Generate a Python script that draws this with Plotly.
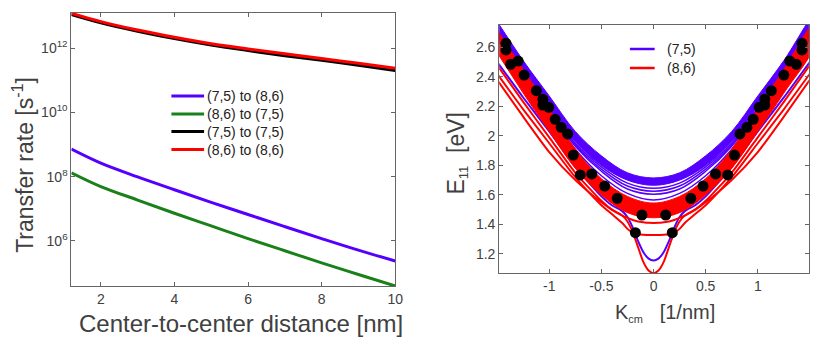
import plotly.graph_objects as go

# ---- left panel: transfer rate vs distance ----
dist = [1.2, 2, 3, 4, 5, 6, 7, 8, 9, 10]
rate_75_86 = [7.2e8, 2.63e8, 9.8e7, 3.9e7, 1.58e7, 6.6e6, 2.75e6, 1.17e6, 5.1e5, 2.35e5]
rate_86_75 = [1.32e8, 4.9e7, 1.86e7, 7.2e6, 2.9e6, 1.17e6, 4.9e5, 2.04e5, 8.9e4, 3.9e4]
rate_75_75 = [1.12e13, 6.2e12, 3.4e12, 2.0e12, 1.26e12, 8.5e11, 5.9e11, 4.2e11, 2.95e11, 2.04e11]
rate_86_86 = [1.23e13, 6.8e12, 3.7e12, 2.2e12, 1.38e12, 9.5e11, 6.8e11, 4.8e11, 3.4e11, 2.4e11]
left_names = ["(7,5) to (8,6)", "(8,6) to (7,5)", "(7,5) to (7,5)", "(8,6) to (8,6)"]

# ---- right panel: E11 dispersion (K >= 0 half, curves are symmetric) ----
k_band = [0, 0.25, 0.5, 0.75, 1.0, 1.25, 1.55]
blue_top = [1.715, 1.75, 1.865, 2.03, 2.27, 2.51, 2.83]
blue_bot = [1.665, 1.70, 1.80, 1.96, 2.20, 2.45, 2.76]
blue_thin = [
    [1.645, 1.68, 1.79, 1.95, 2.19, 2.44, 2.75],
    [1.625, 1.66, 1.775, 1.94, 2.18, 2.43, 2.74],
    [1.605, 1.64, 1.76, 1.93, 2.17, 2.42, 2.73],
    [1.566, 1.61, 1.73, 1.91, 2.15, 2.40, 2.71],
]
red_top = [1.545, 1.59, 1.71, 1.91, 2.18, 2.45, 2.77]
red_bot = [1.445, 1.48, 1.60, 1.78, 2.03, 2.29, 2.62]

k_low = [0, 0.05, 0.1, 0.15, 0.2, 0.25, 0.3, 0.4, 0.5, 0.75, 1.0, 1.25, 1.55]
blue_dip = [1.155, 1.17, 1.215, 1.29, 1.38, 1.45, 1.49, 1.53, 1.59, 1.79, 2.03, 2.26, 2.55]
red_a = [1.41, 1.411, 1.415, 1.42, 1.43, 1.445, 1.46, 1.50, 1.56, 1.75, 1.99, 2.23, 2.53]
red_b = [1.328, 1.329, 1.33, 1.335, 1.345, 1.37, 1.41, 1.47, 1.53, 1.72, 1.95, 2.18, 2.47]
red_c = [1.07, 1.09, 1.15, 1.25, 1.35, 1.42, 1.46, 1.50, 1.55, 1.70, 1.89, 2.13, 2.43]

dot_k = [-1.415, -1.415, -1.37, -1.298, -1.241, -1.124, -1.061, -1.061, -1.004, -0.943,
         -0.886, -0.823, -0.769, -0.703, -0.592, -0.468, -0.348, -0.111, -0.174,
         0.117, 0.180, 0.358, 0.475, 0.595, 0.712, 0.776, 0.829, 0.896, 0.956,
         1.013, 1.067, 1.067, 1.130, 1.25, 1.307, 1.37, 1.424, 1.424]
dot_e = [2.627, 2.582, 2.485, 2.507, 2.412, 2.306, 2.248, 2.209, 2.193, 2.112,
         2.058, 2.013, 1.870, 1.735, 1.742, 1.660, 1.577, 1.464, 1.344,
         1.464, 1.344, 1.577, 1.660, 1.742, 1.735, 1.870, 2.013, 2.058, 2.112,
         2.193, 2.209, 2.248, 2.306, 2.412, 2.507, 2.485, 2.582, 2.627]

BLUE = "#5500ff"
GREEN = "#1a801a"
RED = "#ff0000"
GREY = "#404040"
AX = "#666666"
FONT = "Liberation Sans, Arial"
NB = "\u00a0"

# the page puts the figure a few px in from the window corner
OFFX, OFFY = 3, 8
W, H = 830 - OFFX, 363 - OFFY


def fx(px):
    return (px - OFFX) / W


def fy(py):
    return 1 - (py - OFFY) / H


def mirror(k, e):
    # full symmetric curve from the K >= 0 half
    return [-v for v in k[:0:-1]] + list(k), list(e[:0:-1]) + list(e)


def band(k, top, bot):
    kt, et = mirror(k, top)
    kb, eb = mirror(k, bot)
    return kt + kb[::-1], et + eb[::-1]


fig = go.Figure()

# left panel
left_cols = [BLUE, GREEN, "black", RED]
for y, name, col in zip([rate_75_86, rate_86_75, rate_75_75, rate_86_86], left_names, left_cols):
    fig.add_trace(go.Scatter(x=dist, y=y, name=name, mode="lines", line=dict(color=col, width=3, shape="spline"),
                             xaxis="x", yaxis="y", showlegend=False))

# right panel
bx, by = band(k_band, blue_top, blue_bot)
fig.add_trace(go.Scatter(x=bx, y=by, fill="toself", fillcolor=BLUE, mode="lines",
                         line=dict(color=BLUE, width=1, shape="spline"), xaxis="x2", yaxis="y2",
                         showlegend=False))
for e in blue_thin:
    kx, ey = mirror(k_band, e)
    fig.add_trace(go.Scatter(x=kx, y=ey, mode="lines", line=dict(color=BLUE, width=1.5, shape="spline"),
                             xaxis="x2", yaxis="y2", showlegend=False))
kx, ey = mirror(k_low, blue_dip)
fig.add_trace(go.Scatter(x=kx, y=ey, mode="lines", line=dict(color=BLUE, width=2, shape="spline", smoothing=0.6),
                         xaxis="x2", yaxis="y2", showlegend=False))

rx, ry = band(k_band, red_top, red_bot)
fig.add_trace(go.Scatter(x=rx, y=ry, fill="toself", fillcolor=RED, mode="lines",
                         line=dict(color=RED, width=1, shape="spline"), xaxis="x2", yaxis="y2",
                         showlegend=False))
for e in [red_a, red_b, red_c]:
    kx, ey = mirror(k_low, e)
    fig.add_trace(go.Scatter(x=kx, y=ey, mode="lines", line=dict(color=RED, width=2, shape="spline", smoothing=0.6),
                             xaxis="x2", yaxis="y2", showlegend=False))

fig.add_trace(go.Scatter(x=dot_k, y=dot_e, mode="markers", marker=dict(color="black", size=11),
                         xaxis="x2", yaxis="y2", showlegend=False))

axis_style = dict(showline=True, linecolor=AX, linewidth=1, mirror="ticks", ticks="inside",
                  ticklen=4, tickcolor=AX, showgrid=False, zeroline=False,
                  tickfont=dict(family=FONT, size=14, color=GREY))

fig.update_layout(
    width=W, height=H, margin=dict(l=0, r=0, t=0, b=0),
    plot_bgcolor="white", paper_bgcolor="white", showlegend=False,
    xaxis=dict(domain=[fx(67), fx(394)], range=[1.2, 10], tickvals=[2, 4, 6, 8, 10], **axis_style),
    yaxis=dict(domain=[fy(286), fy(13)], type="log", range=[4.59, 13.1],
               tickvals=[1e6, 1e8, 1e10, 1e12],
               ticktext=["10<sup>6</sup>", "10<sup>8</sup>", "10<sup>10</sup>", "10<sup>12</sup>"], **axis_style),
    xaxis2=dict(domain=[fx(499), fx(811.7)], range=[-1.48, 1.49], anchor="y2",
                tickvals=[-1, -0.5, 0, 0.5, 1], ticktext=["-1", "-0.5", "0", "0.5", "1"], **axis_style),
    yaxis2=dict(domain=[fy(273.3), fy(25)], range=[1.069, 2.751], anchor="x2",
                tickvals=[1.2, 1.4, 1.6, 1.8, 2.0, 2.2, 2.4, 2.6],
                ticktext=["1.2", "1.4", "1.6", "1.8", "2", "2.2", "2.4", "2.6"], **axis_style),
    font=dict(family=FONT, color=GREY),
)

# legends drawn as line glyphs + labels to match the tight MATLAB row spacing
for name, col, row in zip(left_names, left_cols, [96, 114, 131.5, 149.5]):
    fig.add_shape(type="line", xref="paper", yref="paper", x0=fx(168), x1=fx(201), y0=fy(row), y1=fy(row),
                  line=dict(color=col, width=3))
    fig.add_annotation(text=name, x=fx(202), y=fy(row), xref="paper", yref="paper", showarrow=False,
                       xanchor="left", yanchor="middle", font=dict(family=FONT, size=14, color="#222"))
for name, col, row in zip(["(7,5)", "(8,6)"], [BLUE, RED], [49, 68]):
    fig.add_shape(type="line", xref="paper", yref="paper", x0=fx(631), x1=fx(656), y0=fy(row), y1=fy(row),
                  line=dict(color=col, width=2.5))
    fig.add_annotation(text=name, x=fx(666), y=fy(row), xref="paper", yref="paper", showarrow=False,
                       xanchor="left", yanchor="middle", font=dict(family=FONT, size=14, color="#222"))

title_font = dict(family=FONT, size=23, color=GREY)
fig.add_annotation(text="Transfer rate [s<sup>-1</sup>]", x=fx(18), y=fy(165), xref="paper", yref="paper",
                   textangle=-90, showarrow=False, font=title_font, xanchor="center", yanchor="middle")
fig.add_annotation(text="Center-to-center distance [nm]", x=fx(238), y=fy(323), xref="paper", yref="paper",
                   showarrow=False, font=dict(family=FONT, size=24, color=GREY), xanchor="center", yanchor="middle")
fig.add_annotation(text="E<sub><span style='font-size:13px'>11</span></sub>" + NB * 2 + "[eV]",
                   x=fx(456), y=fy(153), xref="paper", yref="paper", textangle=-90, showarrow=False,
                   font=title_font, xanchor="center", yanchor="middle")
fig.add_annotation(text="K<sub><span style='font-size:11px'>cm</span></sub>" + NB * 3 + "[1/nm]",
                   x=fx(666), y=fy(313), xref="paper", yref="paper", showarrow=False,
                   font=dict(family=FONT, size=20, color=GREY), xanchor="center", yanchor="middle")

fig.write_html("out.html")
